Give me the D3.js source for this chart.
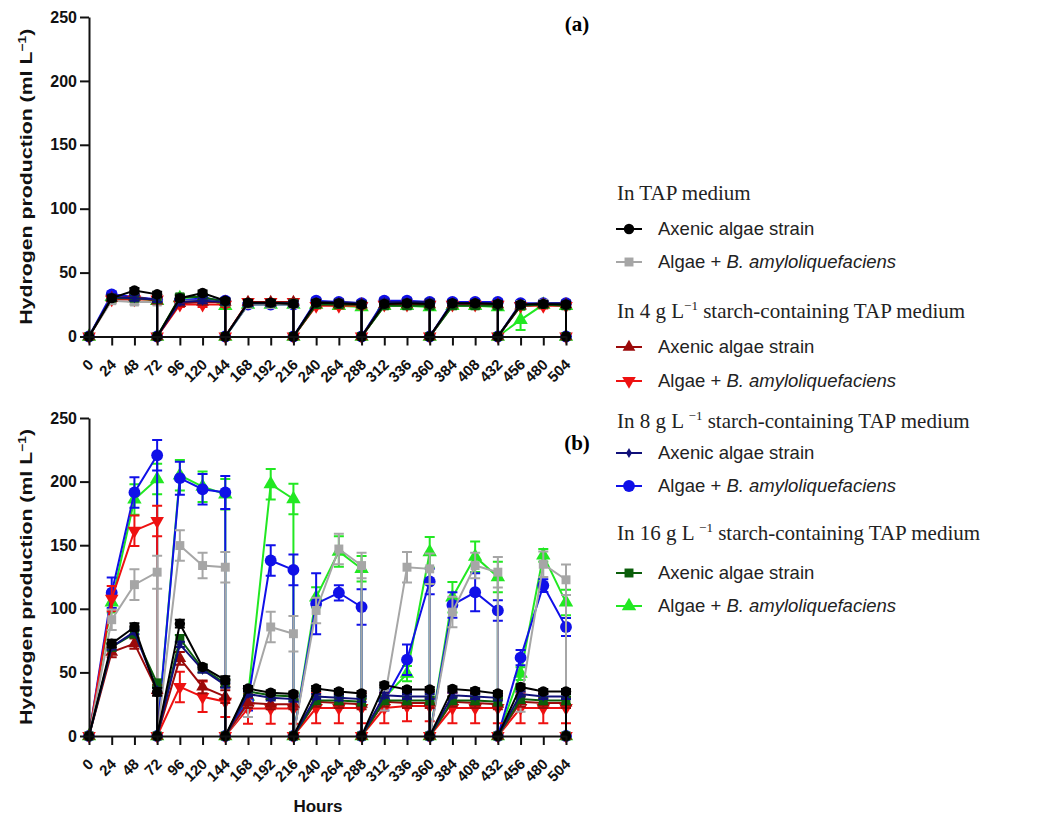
<!DOCTYPE html>
<html>
<head>
<meta charset="utf-8">
<script src="https://cdn.jsdelivr.net/npm/d3@7"></script>
<style>
  body { margin: 0; background: #fff; }
  text { font-family: Arial, "Liberation Sans", sans-serif; }
</style>
</head>
<body>
<div id="chart"></div>
<script>
// x ticks, every 24 h
const xTicks = d3.range(0, 505, 24);
const yTicks = [0, 50, 100, 150, 200, 250];

// sampling hours inside each 72 h batch (values at 24, 48, 72 after each reset)
const hours = xTicks.slice(1);

// ---- panel (a) values, ml/L ----
const aBlack     = [30, 36, 33, 30, 34, 28, 26.5, 26.5, 25.5, 26.5, 26, 25, 25.5, 26, 25.5, 26, 26, 25.5, 25, 25.5, 25];
const aGray      = [28, 27, 27, 28, 28, 27, 25, 25, 25, 26, 26, 25, 25, 25, 25, 25, 25, 25, 25, 26, 25];
const aDarkRed   = [30, 31, 28, 26, 27, 27, 27, 27, 27, 25, 25, 25, 25, 25, 25, 25, 25, 25, 24, 25, 25];
const aRed       = [29, 29, 29, 25, 25, 25, 27, 27, 27, 24, 24, 24, 25, 25, 25, 25, 25, 25, 24, 24, 24];
const aNavy      = [31, 30, 29, 27, 28, 27, 26, 26, 26, 27, 27, 26, 27, 27, 27, 26, 26, 26, 25, 26, 26];
const aBlue      = [33, 31, 29, 28, 30, 28, 25, 25, 25, 28, 27, 26, 28, 28, 27, 27, 27, 27, 26, 26, 26];
const aDarkGreen = [30, 30, 29, 31, 31, 27, 26, 26, 26, 25, 25, 25, 24, 24, 24, 24, 24, 24, 24, 25, 24];
const aGreen     = [31, 30, 28, 30, 31, 24, 25, 25, 25, 25, 24, 23, 24, 24, 23, 24, 24, 23, 13, 25, 24];
const aGreenErr  = [2, 2, 2, 2, 2, 2, 2, 2, 2, 2, 2, 2, 2, 2, 2, 2, 2, 2, 8, 2, 2];

// ---- panel (b) values, ml/L ----
const bBlack     = [72.6, 85.7, 34.7, 88.3, 54.3, 44, 37.3, 34, 33, 37.3, 35, 33.4, 40, 36.6, 36.6, 37, 35.5, 33.4, 38.6, 35, 35];
const bGray      = [91.4, 119, 128.8, 149.7, 134, 132.7, 25, 85.7, 80.4, 98.7, 147, 134, 28, 132.7, 131.4, 97.4, 134, 128.8, 27, 135, 122.8];
const bDarkRed   = [66, 72.6, 36, 61, 38.6, 31, 26, 25, 25, 27, 26, 25, 27, 26, 26, 27, 26, 25, 27, 26, 26];
const bRed       = [108, 161.4, 169, 38.6, 30.8, 27, 21.7, 21.7, 21.7, 22, 22, 22, 22, 23.5, 23.5, 22, 22, 22, 22, 22, 22];
const bNavy      = [70, 82, 36, 72, 52, 40, 33, 30, 29, 31, 30, 29, 32, 31, 31, 32, 31, 30, 33, 31, 31];
const bBlue      = [112.6, 191.5, 220.7, 202.7, 194, 191.5, 28, 138, 130.6, 104, 112.6, 101.4, 28, 60, 121.5, 103, 113, 98.7, 61.6, 118.3, 85.7];
const bDarkGreen = [70, 80.4, 41.5, 76.5, 53, 41.5, 35, 32, 31, 28, 28, 27, 28, 28, 28, 28, 28, 27, 29, 28, 28];
const bGreen     = [105, 186, 202, 205, 196, 190, 31, 198, 186.3, 109, 145, 131.5, 30, 49, 144.5, 109, 141, 125, 49, 142, 105];

// error bars (SD) for panel (b)
const bBlackErr     = [3, 3, 3, 3, 2, 3, 2, 2, 2, 2, 2, 2, 2, 2, 2, 2, 2, 2, 2, 2, 2];
const bGrayErr      = [8, 12, 13, 12, 10, 12, 10, 12, 14, 10, 12, 10, 8, 12, 12, 12, 10, 12, 8, 10, 12];
const bDarkRedErr   = [4, 4, 4, 5, 5, 5, 4, 4, 4, 4, 4, 4, 4, 4, 4, 4, 4, 4, 4, 4, 4];
const bRedErr       = [10, 12, 12, 12, 12, 12, 12, 12, 12, 12, 12, 12, 12, 12, 12, 12, 12, 12, 12, 12, 12];
const bNavyErr      = [2, 2, 2, 2, 2, 2, 2, 2, 2, 2, 2, 2, 2, 2, 2, 2, 2, 2, 2, 2, 2];
const bBlueErr      = [12, 12, 12, 13, 12, 13, 8, 12, 12, 24, 6, 14, 8, 12, 10, 10, 15, 8, 6, 5, 7];
const bDarkGreenErr = [3, 3, 3, 3, 3, 3, 3, 3, 3, 3, 3, 3, 3, 3, 3, 3, 3, 3, 3, 3, 3];
const bGreenErr     = [8, 12, 12, 12, 12, 12, 6, 12, 12, 8, 12, 10, 6, 6, 12, 12, 12, 12, 5, 5, 10];

const smallErr = hours.map(() => 2);

// series styles, drawn in this order
const seriesStyle = [
    {key: "green",     color: "#22e822", symbol: d3.symbolTriangle, size: 90},
    {key: "blue",      color: "#1010e8", symbol: d3.symbolCircle,   size: 110},
    {key: "red",       color: "#ee1111", symbol: "down",            size: 80},
    {key: "gray",      color: "#a6a6a6", symbol: d3.symbolSquare,   size: 80},
    {key: "darkred",   color: "#9b0a0a", symbol: d3.symbolTriangle, size: 70},
    {key: "darkgreen", color: "#0b5e0b", symbol: d3.symbolSquare,   size: 80},
    {key: "navy",      color: "#10107a", symbol: d3.symbolDiamond,  size: 30},
    {key: "black",     color: "#000000", symbol: d3.symbolCircle,   size: 85}
];

const panelA = {
    black: [aBlack, smallErr], gray: [aGray, smallErr], darkred: [aDarkRed, smallErr], red: [aRed, smallErr],
    navy: [aNavy, smallErr], blue: [aBlue, smallErr], darkgreen: [aDarkGreen, smallErr], green: [aGreen, aGreenErr]
};
const panelB = {
    black: [bBlack, bBlackErr], gray: [bGray, bGrayErr], darkred: [bDarkRed, bDarkRedErr], red: [bRed, bRedErr],
    navy: [bNavy, bNavyErr], blue: [bBlue, bBlueErr], darkgreen: [bDarkGreen, bDarkGreenErr], green: [bGreen, bGreenErr]
};

const W = 1041, H = 818;
const svg = d3.select("#chart").append("svg").attr("width", W).attr("height", H);

const x = d3.scaleLinear().domain([0, 504]).range([89, 566]);

// turn 21 values into the reset-every-72h path
function buildPoints(vals, errs) {
    let pts = [];
    for (let k = 0; k < 7; k++) {
        let start = 72 * k;
        pts.push({h: start, v: 0, e: 0});
        for (let j = 0; j < 3; j++) {
            pts.push({h: hours[3 * k + j], v: vals[3 * k + j], e: errs[3 * k + j]});
        }
    }
    pts.push({h: 504, v: 0, e: 0});
    return pts;
}

function symbolPath(s) {
    if (s.symbol === "down") {
        return d3.symbol().type(d3.symbolTriangle).size(s.size)();
    }
    return d3.symbol().type(s.symbol).size(s.size)();
}

function drawPanel(data, top, bottom, label, labelY) {
    const y = d3.scaleLinear().domain([0, 250]).range([bottom, top]);
    const g = svg.append("g");

    // series
    for (let s of seriesStyle) {
        let [vals, errs] = data[s.key];
        let pts = buildPoints(vals, errs);
        let sg = g.append("g");

        sg.append("path")
            .datum(pts)
            .attr("fill", "none")
            .attr("stroke", s.color)
            .attr("stroke-width", 2)
            .attr("d", d3.line().x(d => x(d.h)).y(d => y(d.v)));

        let withErr = pts.filter(d => d.e > 0);
        sg.selectAll(".eb").data(withErr).enter().append("path")
            .attr("fill", "none")
            .attr("stroke", s.color)
            .attr("stroke-width", 2)
            .attr("d", d => {
                let cx = x(d.h), y1 = y(d.v + d.e), y0 = y(Math.max(d.v - d.e, 0));
                return `M${cx - 5},${y1}H${cx + 5}M${cx},${y1}V${y0}M${cx - 5},${y0}H${cx + 5}`;
            });

        sg.selectAll(".mk").data(pts).enter().append("path")
            .attr("d", symbolPath(s))
            .attr("fill", s.color)
            .attr("transform", d => `translate(${x(d.h)},${y(d.v)})` + (s.symbol === "down" ? " rotate(180)" : ""));
    }

    // axes
    let ya = g.append("g")
        .attr("transform", "translate(89,0)")
        .call(d3.axisLeft(y).tickValues(yTicks).tickSize(9).tickSizeOuter(0).tickPadding(3));
    ya.selectAll("text").style("font-size", "16px").style("font-weight", "bold").attr("fill", "#111");
    ya.selectAll("line, path").attr("stroke", "#111").attr("stroke-width", 2);

    let xa = g.append("g")
        .attr("transform", `translate(0,${bottom})`)
        .call(d3.axisBottom(x).tickValues(xTicks).tickSize(9).tickSizeOuter(0));
    xa.selectAll("line, path").attr("stroke", "#111").attr("stroke-width", 2);
    xa.selectAll("text")
        .style("font-size", "15px").style("font-weight", "bold").attr("fill", "#111")
        .style("text-anchor", "end")
        .attr("y", 0).attr("dy", 0)
        .attr("transform", "translate(5,29) rotate(-45)");

    // y axis label
    let yl = g.append("text")
        .attr("transform", `translate(32,${(top + bottom) / 2}) rotate(-90)`)
        .attr("text-anchor", "middle")
        .style("font-size", "17px").style("font-weight", "bold").attr("fill", "#111")
        .attr("textLength", 296).attr("lengthAdjust", "spacingAndGlyphs");
    yl.append("tspan").text("Hydrogen production (ml L");
    yl.append("tspan").attr("dy", -6).style("font-size", "11px").text("\u22121");
    yl.append("tspan").attr("dy", 6).text(")");

    // panel label
    svg.append("text")
        .attr("x", 577).attr("y", labelY)
        .attr("text-anchor", "middle")
        .style("font-family", "'Liberation Serif', 'Times New Roman', serif")
        .style("font-size", "21px").style("font-weight", "bold")
        .text(label);
}

drawPanel(panelA, 17, 336.5, "(a)", 31);
drawPanel(panelB, 418, 736, "(b)", 450);

// x axis title
svg.append("text")
    .attr("x", 318).attr("y", 812)
    .attr("text-anchor", "middle")
    .style("font-size", "17px").style("font-weight", "bold").attr("fill", "#111")
    .text("Hours");

// ---- legend ----
const legendGroups = [
    {title: ["In TAP medium"], y: 193, items: ["black", "gray"]},
    {title: ["In 4 g L", "\u22121", " starch-containing TAP medium"], y: 311, items: ["darkred", "red"]},
    {title: ["In 8 g L ", "\u22121", " starch-containing TAP medium"], y: 421, items: ["navy", "blue"]},
    {title: ["In 16 g L ", "\u22121", " starch-containing TAP medium"], y: 533, items: ["darkgreen", "green"]}
];
const itemOffsets = [[36, 69], [36, 70], [32, 65], [40, 73]];

const lg = svg.append("g");
legendGroups.forEach((grp, gi) => {
    let t = lg.append("text")
        .attr("x", 617).attr("y", grp.y + 7)
        .style("font-family", "'Liberation Serif', 'Times New Roman', serif")
        .style("font-size", "21px").attr("fill", "#222");
    t.append("tspan").text(grp.title[0]);
    if (grp.title.length > 1) {
        t.append("tspan").attr("dy", -8).style("font-size", "13px").text(grp.title[1]);
        t.append("tspan").attr("dy", 8).text(grp.title[2]);
    }

    grp.items.forEach((key, ii) => {
        let s = seriesStyle.find(d => d.key === key);
        let cy = grp.y + itemOffsets[gi][ii];
        lg.append("line")
            .attr("x1", 616).attr("x2", 642).attr("y1", cy).attr("y2", cy)
            .attr("stroke", s.color).attr("stroke-width", 2);
        lg.append("path")
            .attr("d", symbolPath(s))
            .attr("fill", s.color)
            .attr("transform", `translate(629,${cy})` + (s.symbol === "down" ? " rotate(180)" : ""));

        let lt = lg.append("text")
            .attr("x", 658).attr("y", cy + 6)
            .style("font-size", "18.5px").attr("fill", "#222");
        if (ii === 0) {
            lt.text("Axenic algae strain");
        } else {
            lt.append("tspan").text("Algae + ");
            lt.append("tspan").style("font-style", "italic").text("B. amyloliquefaciens");
        }
    });
});
</script>
</body>
</html>
